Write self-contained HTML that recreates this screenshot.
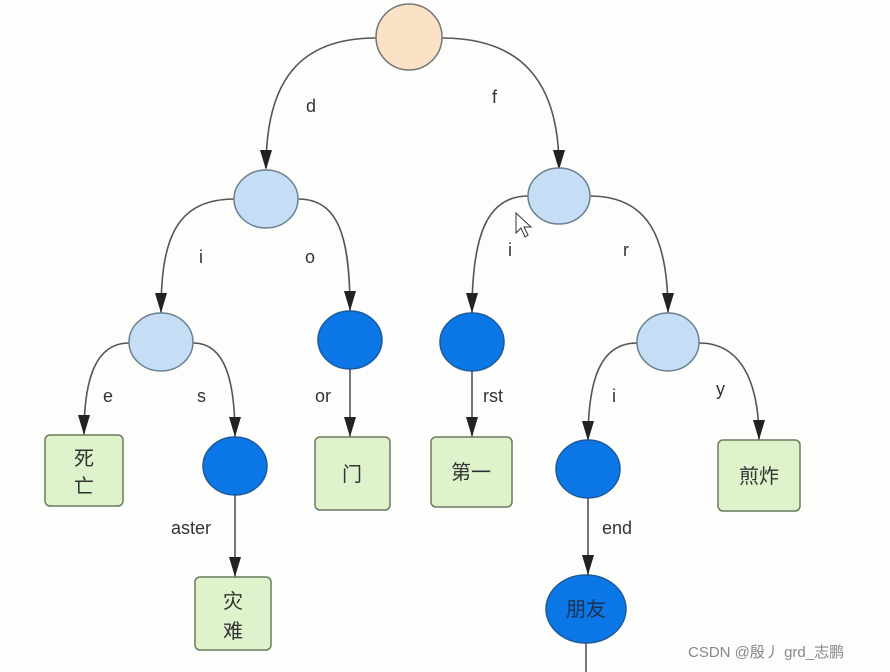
<!DOCTYPE html>
<html><head><meta charset="utf-8"><style>
html,body{margin:0;padding:0;background:#fdfdfb;}
svg{display:block;}
text{font-family:"Liberation Sans","Noto Sans CJK SC",sans-serif;}
</style></head><body>
<svg width="890" height="672" viewBox="0 0 890 672" xmlns="http://www.w3.org/2000/svg">
<defs>
<marker id="a" markerWidth="10" markerHeight="12" refX="5" refY="11" orient="auto-start-reverse" markerUnits="userSpaceOnUse" viewBox="0 0 10 12">
<path d="M0,0 L10,0 L5,12 Z" fill="#222"/>
</marker>
</defs>
<rect width="890" height="672" fill="#fdfdfb"/>
<g fill="none" stroke="#555" stroke-width="1.6">
<!-- root edges -->
<path d="M376,38 C300,38 266,80 266,168"/>
<path d="M266,150 L266,168"/>
<path d="M442,38 C520,38 559,80 559,168"/>
<!-- d children -->
<path d="M235,199 C175,199 161,240 161,313"/>
<path d="M298,199 C340,199 350,240 350,311"/>
<!-- f children -->
<path d="M528,196 C485,196 472,240 472,313"/>
<path d="M590,196 C650,196 668,240 668,313"/>
<!-- i children -->
<path d="M129,343 C95,343 84,380 84,435"/>
<path d="M193,343 C225,343 235,380 235,437"/>
<!-- r children -->
<path d="M637,343 C600,343 588,380 588,441"/>
<path d="M699,343 C740,343 759,380 759,440"/>
<!-- straight -->
<path d="M350,368 L350,437"/>
<path d="M472,371 L472,437"/>
<path d="M235,495 L235,577"/>
<path d="M588,498 L588,575"/>
<path d="M586,643 L586,672"/>
</g>
<g fill="#222">
<path d="M260,150 L272,150 L266,170 Z"/>
<path d="M553,150 L565,150 L559,170 Z"/>
<path d="M155,293 L167,293 L161,313 Z"/>
<path d="M344,291 L356,291 L350,311 Z"/>
<path d="M466,293 L478,293 L472,313 Z"/>
<path d="M662,293 L674,293 L668,313 Z"/>
<path d="M78,415 L90,415 L84,435 Z"/>
<path d="M229,417 L241,417 L235,437 Z"/>
<path d="M582,421 L594,421 L588,441 Z"/>
<path d="M753,420 L765,420 L759,440 Z"/>
<path d="M344,417 L356,417 L350,437 Z"/>
<path d="M466,417 L478,417 L472,437 Z"/>
<path d="M229,557 L241,557 L235,577 Z"/>
<path d="M582,555 L594,555 L588,575 Z"/>
</g>
<!-- nodes -->
<ellipse cx="409" cy="37" rx="33" ry="33" fill="#fbe1c6" stroke="#777" stroke-width="1.5"/>
<ellipse cx="266" cy="199" rx="32" ry="29" fill="#c6ddf6" stroke="#6a7f90" stroke-width="1.5"/>
<ellipse cx="559" cy="196" rx="31" ry="28" fill="#c6ddf6" stroke="#6a7f90" stroke-width="1.5"/>
<ellipse cx="161" cy="342" rx="32" ry="29" fill="#c6ddf6" stroke="#6a7f90" stroke-width="1.5"/>
<ellipse cx="668" cy="342" rx="31" ry="29" fill="#c6ddf6" stroke="#6a7f90" stroke-width="1.5"/>
<ellipse cx="350" cy="340" rx="32" ry="29" fill="#0b77e6" stroke="#1d5a9a" stroke-width="1.5"/>
<ellipse cx="472" cy="342" rx="32" ry="29" fill="#0b77e6" stroke="#1d5a9a" stroke-width="1.5"/>
<ellipse cx="235" cy="466" rx="32" ry="29" fill="#0b77e6" stroke="#1d5a9a" stroke-width="1.5"/>
<ellipse cx="588" cy="469" rx="32" ry="29" fill="#0b77e6" stroke="#1d5a9a" stroke-width="1.5"/>
<ellipse cx="586" cy="609" rx="40" ry="34" fill="#0b77e6" stroke="#1d5a9a" stroke-width="1.5"/>
<g fill="#def2cc" stroke="#6b7a60" stroke-width="1.5">
<rect x="45" y="435" width="78" height="71" rx="5"/>
<rect x="315" y="437" width="75" height="73" rx="5"/>
<rect x="431" y="437" width="81" height="70" rx="5"/>
<rect x="718" y="440" width="82" height="71" rx="5"/>
<rect x="195" y="577" width="76" height="73" rx="5"/>
</g>
<g font-size="20" fill="#333" text-anchor="middle">
<text x="84" y="465">死</text><text x="84" y="493">亡</text>
<text x="352" y="481">门</text>
<text x="471" y="479">第一</text>
<text x="759" y="483">煎炸</text>
<text x="233" y="608">灾</text><text x="233" y="638">难</text>
<text x="586" y="616" fill="#1b3050">朋友</text>
</g>
<g font-size="18" fill="#333">
<text x="306" y="112">d</text>
<text x="492" y="103">f</text>
<text x="199" y="263">i</text>
<text x="305" y="263">o</text>
<text x="508" y="256">i</text>
<text x="623" y="256">r</text>
<text x="103" y="402">e</text>
<text x="197" y="402">s</text>
<text x="315" y="402">or</text>
<text x="483" y="402">rst</text>
<text x="612" y="402">i</text>
<text x="716" y="395">y</text>
<text x="171" y="534">aster</text>
<text x="602" y="534">end</text>
</g>
<path d="M516,213 L516,233 L521,228 L525,237 L528,235 L524,227 L531,227 Z" fill="#fff" stroke="#333" stroke-width="1"/>
<text x="688" y="657" font-size="15" fill="#888">CSDN @殷丿 grd_志鹏</text>
</svg>
</body></html>
